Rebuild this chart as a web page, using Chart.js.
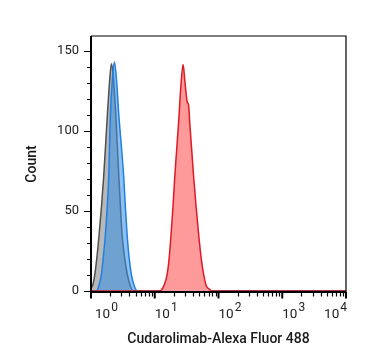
<!DOCTYPE html>
<html>
<head>
<meta charset="utf-8">
<script src="https://cdn.jsdelivr.net/npm/chart.js@4"></script>
<style>
html,body{margin:0;padding:0;background:#fff;}
#wrap{width:367px;height:364px;position:relative;}
</style>
</head>
<body>
<div id="wrap"><canvas id="c" width="367" height="364"></canvas></div>
<script>
// ---- data (x = fluorescence intensity, y = count) ----
const grayX = [0.871, 1.0, 1.072, 1.143, 1.230, 1.337, 1.462, 1.585, 1.807, 1.950, 2.089, 2.239, 2.449, 2.729, 2.917, 3.076, 3.388, 3.733, 4.074, 4.571, 10000];
const grayY = [0, 1.5, 4, 9.8, 20, 34.8, 53, 72, 110, 130, 142, 134, 110, 72, 50, 34.8, 20, 9.8, 4, 0, 0];

const blueX = [1.0, 1.202, 1.288, 1.365, 1.452, 1.549, 1.679, 1.799, 1.901, 2.014, 2.163, 2.328, 2.512, 2.729, 3.251, 3.467, 3.690, 3.981, 4.315, 4.786, 5.297, 10000];
const blueY = [0, 0, 1.5, 5, 9.8, 20, 34.8, 53, 72, 110, 132, 143, 132, 110, 72, 52, 34.8, 20, 9.8, 3, 0, 0];

const redX = [1.0, 12.02, 12.97, 14.13, 15.56, 16.79, 17.99, 19.50, 20.65, 23.71, 25.70, 27.80, 29.85, 32.36, 34.04, 35.32, 40.64, 44.67, 48.98, 53.70, 58.75, 64.57, 72.11, 77.62, 10000];
const redY = [0, 0, 1, 4, 9.8, 20, 34.8, 55, 72, 105.6, 128, 141.5, 130, 118, 116, 105.6, 72, 52, 34.8, 20, 9.8, 3, 1, 0, 0];

const yTickValues = [0, 50, 100, 150];
const xDecades = [1, 10, 100, 1000, 10000];
const xDecadeExps = ['0', '1', '2', '3', '4'];
const xTitle = 'Cudarolimab-Alexa Fluor 488';
const yTitle = 'Count';

function pts(xs, ys){ return xs.map((x,i)=>({x:x, y:ys[i]})); }

const axisPlugin = {
  id:'axisPlugin',
  afterDraw(chart){
    const ctx = chart.ctx;
    const xs = chart.scales.x, ys = chart.scales.y;
    const a = chart.chartArea;
    ctx.save();
    // frame
    ctx.strokeStyle = '#000';
    ctx.lineWidth = 1.2;
    ctx.beginPath();
    ctx.moveTo(a.left, a.top); ctx.lineTo(a.right, a.top); ctx.lineTo(a.right, a.bottom);
    ctx.stroke();
    // main axes
    ctx.lineWidth = 2;
    ctx.beginPath();
    ctx.moveTo(a.left, a.top); ctx.lineTo(a.left, a.bottom + 1);
    ctx.moveTo(a.left - 1, a.bottom); ctx.lineTo(a.right, a.bottom);
    ctx.stroke();
    // y ticks
    ctx.lineWidth = 1.2;
    ctx.beginPath();
    for (let v = 0; v <= 150; v += 10) {
      const py = Math.round(ys.getPixelForValue(v)) + 0.5;
      const len = (v % 50 === 0) ? 7 : 4;
      ctx.moveTo(a.left - len, py); ctx.lineTo(a.left, py);
    }
    ctx.stroke();
    // x ticks
    ctx.beginPath();
    xDecades.forEach((d, i) => {
      if (i < xDecades.length - 1) {
        for (let k = 2; k <= 9; k++) {
          const mx = Math.round(xs.getPixelForValue(d * k)) + 0.5;
          ctx.moveTo(mx, a.bottom); ctx.lineTo(mx, a.bottom + 4.5);
        }
      }
    });
    ctx.stroke();
    ctx.lineWidth = 2;
    ctx.beginPath();
    xDecades.forEach((d) => {
      const px = xs.getPixelForValue(d);
      ctx.moveTo(px, a.bottom); ctx.lineTo(px, a.bottom + 6.5);
    });
    ctx.stroke();
    // x tick labels (10^n)
    ctx.fillStyle = '#222';
    ctx.textBaseline = 'alphabetic';
    ctx.textAlign = 'left';
    xDecades.forEach((d, i) => {
      const px = xs.getPixelForValue(d);
      ctx.font = '13.5px Roboto';
      const w1 = ctx.measureText('10').width;
      ctx.font = '12px Roboto';
      const w2 = ctx.measureText(xDecadeExps[i]).width;
      let left = px;
      if (i === 0) left = px + 4;
      if (left + w1 + 1 + w2 > a.right + 1) left = a.right + 1 - (w1 + 1 + w2);
      ctx.font = '13.5px Roboto';
      ctx.fillText('10', left, 318);
      ctx.font = '12px Roboto';
      ctx.fillText(xDecadeExps[i], left + w1 + 1, 310.5);
    });
    ctx.restore();
  }
};

new Chart(document.getElementById('c'), {
  type: 'line',
  data: {
    datasets: [
      {
        label: 'Cudarolimab',
        data: pts(redX, redY),
        borderColor: '#dd1a24',
        backgroundColor: '#ff9a9a',
        borderWidth: 1.5,
        fill: 'origin',
        pointRadius: 0,
        cubicInterpolationMode: 'monotone'
      },
      {
        label: 'Blue',
        data: pts(blueX, blueY),
        borderColor: '#1f80e4',
        backgroundColor: 'rgba(54,143,228,0.56)',
        borderWidth: 1.5,
        fill: 'origin',
        pointRadius: 0,
        cubicInterpolationMode: 'monotone'
      },
      {
        label: 'Gray',
        data: pts(grayX, grayY),
        borderColor: '#505050',
        backgroundColor: '#b8b8b8',
        borderWidth: 1.5,
        fill: 'origin',
        pointRadius: 0,
        cubicInterpolationMode: 'monotone'
      }
    ]
  },
  options: {
    responsive: false,
    animation: false,
    events: [],
    layout: { padding: { top: 36, right: 21, left: 0, bottom: 0 } },
    plugins: { legend: { display: false }, tooltip: { enabled: false } },
    scales: {
      x: {
        type: 'logarithmic',
        min: 1, max: 10000,
        grid: { display: false, drawTicks: false },
        border: { display: false },
        ticks: { display: false },
        afterFit(s){ s.height = 72; },
        title: {
          display: true, text: xTitle, color: '#1a1a1a',
          font: { family: 'Roboto', size: 14, weight: '500' },
          padding: { top: 0, bottom: 16.6 }
        }
      },
      y: {
        min: -0.7, max: 159.3,
        grid: { display: false, drawTicks: false },
        border: { display: false },
        afterBuildTicks(s){ s.ticks = yTickValues.map(v => ({value: v})); },
        afterFit(s){ s.width = 91; },
        ticks: {
          color: '#222', padding: 12,
          font: { family: 'Roboto', size: 13 }
        },
        title: {
          display: true, text: yTitle, color: '#1a1a1a',
          font: { family: 'Roboto', size: 14, weight: '500' },
          padding: { top: 23.6, bottom: 0 }
        }
      }
    }
  },
  plugins: [axisPlugin]
});
</script>
</body>
</html>
